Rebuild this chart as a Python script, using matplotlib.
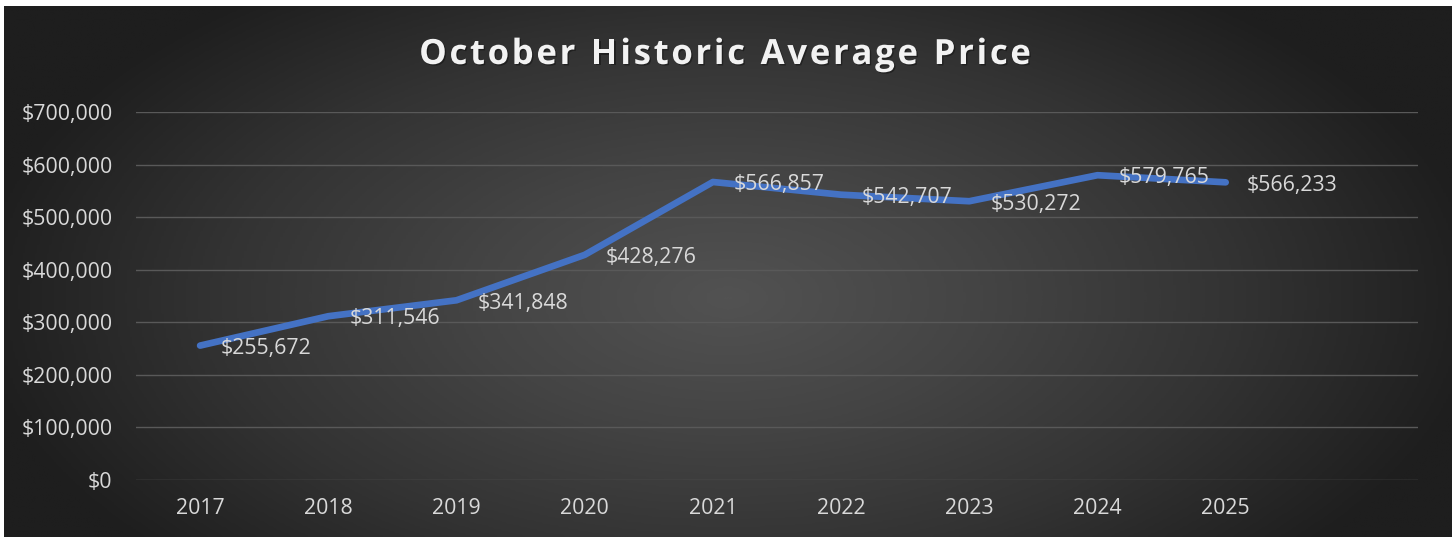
import numpy as np
import matplotlib.pyplot as plt
import matplotlib.patheffects as pe
from matplotlib.colors import LinearSegmentedColormap

years = ['2017', '2018', '2019', '2020', '2021', '2022', '2023', '2024', '2025']
prices = [255672, 311546, 341848, 428276, 566857, 542707, 530272, 579765, 566233]
y_ticks = [0, 100000, 200000, 300000, 400000, 500000, 600000, 700000]
title = 'October Historic Average Price'

W, H = 1452, 537
fig = plt.figure(figsize=(W / 100, H / 100), dpi=100)
fig.patch.set_facecolor('white')

# dark radial gradient panel
bg = fig.add_axes([4 / W, 0, 1 - 4 / W, 1 - 6 / H])
bg.set_axis_off()
gx, gy = np.meshgrid(np.linspace(-1, 1, 600), np.linspace(-1, 1, 300))
r = np.sqrt(gx ** 2 + ((gy - 0.1) / 1.4) ** 2)
r = np.clip(r / 1.05, 0, 1)
cmap = LinearSegmentedColormap.from_list('bg', ['#525252', '#444444', '#333333', '#1e1e1e'])
bg.imshow(r, cmap=cmap, aspect='auto', extent=[0, 1, 0, 1], interpolation='bilinear')

ax = fig.add_axes([136 / W, 1 - 480 / H, (1418 - 136) / W, (480 - 112) / H])
ax.set_facecolor('none')
x = np.arange(len(years))
ax.plot(x, prices, color='#4472C4', lw=4.8, solid_capstyle='round', solid_joinstyle='round', zorder=3)
for xi, v in zip(x, prices):
    ax.annotate(f'${v:,}', (xi, v), xytext=(15, -2), textcoords='offset points',
                ha='left', va='center', color='#d9d9d9', fontsize=15.3, family='Open Sans', zorder=4)

ax.set_xlim(-0.5, 9.5)
ax.set_ylim(0, 700000)
ax.set_xticks(x)
ax.set_xticklabels(years)
ax.set_yticks(y_ticks)
ax.set_yticklabels([f'${v:,}' for v in y_ticks])
ax.tick_params(length=0, colors='#d9d9d9', labelsize=15.3)
ax.tick_params(axis='x', pad=13)
ax.tick_params(axis='y', pad=17)
for lab in ax.get_xticklabels() + ax.get_yticklabels():
    lab.set_family('Open Sans')
ax.grid(axis='y', color='#595959', lw=1)
ax.set_axisbelow(True)
for s in ax.spines.values():
    s.set_visible(False)

# title with wide letter spacing, drawn char by char
renderer = fig.canvas.get_renderer()
tprops = dict(color='#f2f2f2', fontsize=25, fontweight='bold', family='Open Sans', va='center', ha='left',
              path_effects=[pe.withSimplePatchShadow(offset=(1, -1), shadow_rgbFace='black', alpha=0.35)])
spacing = 2.7
widths = []
for ch in title:
    t = fig.text(0, 0, ch if ch != ' ' else 'n', **tprops)
    w = t.get_window_extent(renderer).width
    if ch == ' ':
        w *= 0.45
    widths.append(w)
    t.remove()
total = sum(widths) + spacing * (len(title) - 1)
xpos = 725 - total / 2
for ch, w in zip(title, widths):
    if ch != ' ':
        fig.text(xpos / W, 1 - 55 / H, ch, **tprops)
    xpos += w + spacing

fig.savefig('out.png', dpi=100)
